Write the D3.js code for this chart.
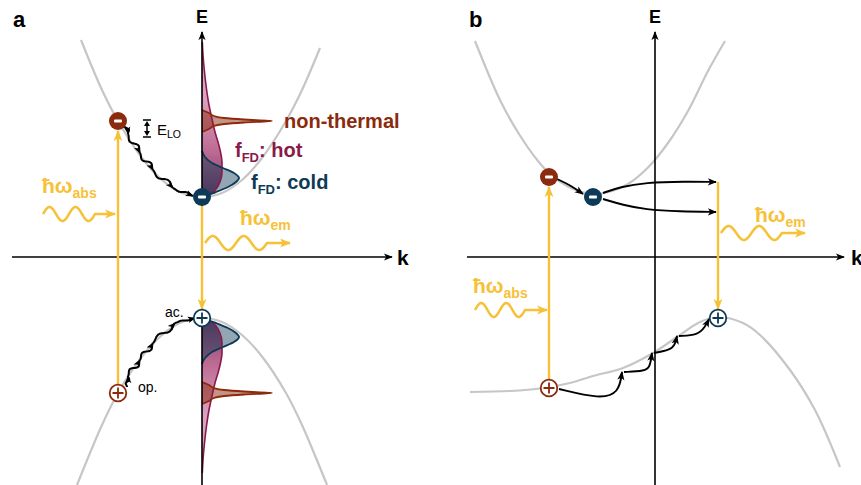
<!DOCTYPE html>
<html><head><meta charset="utf-8">
<script src="https://cdn.jsdelivr.net/npm/d3@7"></script>
<style>body{margin:0;background:#fff}svg{display:block;font-family:"Liberation Sans",Arial,sans-serif}</style>
</head><body><svg id="c" width="861" height="485"></svg>
<script>
// ---------------- DATA (k, E in arbitrary units) ----------------
// panel a: conduction / valence bands
const cbA_k = [-1.21,-1.0,-0.84,-0.6,-0.4,-0.2,0,0.2,0.4,0.6,0.84,1.0,1.18];
const cbA_E = [2.17,1.67,1.36,0.99,0.77,0.64,0.60,0.64,0.77,0.99,1.36,1.67,2.09];
const vbA_k = [-1.25,-1.0,-0.84,-0.6,-0.4,-0.2,0,0.2,0.4,0.6,0.84,1.0,1.25];
const vbA_E = [-2.28,-1.68,-1.36,-0.995,-0.78,-0.65,-0.61,-0.65,-0.78,-0.995,-1.36,-1.68,-2.28];
// panel b bands
const cbB_k = [-1.80,-1.55,-1.36,-1.17,-1.04,-0.88,-0.73,-0.60,-0.43,-0.27,-0.07,0.13,0.33,0.53,0.70];
const cbB_E = [2.16,1.57,1.23,0.96,0.82,0.71,0.65,0.63,0.66,0.73,0.895,1.14,1.46,1.86,2.16];
const vbB_k = [-1.85,-1.45,-1.12,-0.85,-0.62,-0.32,-0.02,0.22,0.45,0.63,0.88,1.05,1.35,1.6,1.85];
const vbB_E = [-1.35,-1.34,-1.31,-1.26,-1.19,-1.11,-0.96,-0.80,-0.65,-0.60,-0.66,-0.78,-1.13,-1.53,-2.10];

// carriers: [k, E]
const carriersA = [
  {k:-0.84,E:1.36,type:"e",col:"red"},{k:0,E:0.60,type:"e",col:"navy"},
  {k:-0.84,E:-1.36,type:"h",col:"red"},{k:0,E:-0.61,type:"h",col:"navy"}];
const carriersB = [
  {k:-1.06,E:0.80,type:"e",col:"red"},{k:-0.62,E:0.60,type:"e",col:"navy"},
  {k:-1.06,E:-1.31,type:"h",col:"red"},{k:0.63,E:-0.61,type:"h",col:"navy"}];

// distributions: offset from band edge, width
const hotOff  = [0,0.03,0.08,0.15,0.25,0.35,0.45,0.55,0.65,0.78,0.92,1.08,1.25,1.42,1.55];
const hotW    = [0,0.08,0.14,0.18,0.20,0.20,0.185,0.16,0.13,0.10,0.07,0.045,0.025,0.01,0.003];
const coldOff = [0,0.05,0.10,0.15,0.19,0.24,0.29,0.34,0.40,0.46];
const coldW   = [0,0.14,0.26,0.34,0.37,0.32,0.21,0.10,0.03,0];
const ntOff   = [-0.11,-0.08,-0.05,-0.03,-0.015,0,0.015,0.03,0.05,0.08,0.11];
const ntW     = [0,0.07,0.12,0.22,0.42,0.70,0.42,0.22,0.12,0.07,0];
const ntCenter = 0.76; // offset of non-thermal peak from band edge

// cascades panel a
const casEk = [-0.77,-0.74,-0.62,-0.49,-0.29,-0.09];
const casEE = [1.35,1.23,1.04,0.87,0.69,0.61];
const casHk = [-0.75,-0.74,-0.62,-0.49,-0.27,-0.07];
const casHE = [-1.30,-1.19,-1.03,-0.86,-0.66,-0.61];

// panel b arrow paths
const bRelax = [[-0.98,0.78],[-0.85,0.72],[-0.72,0.63]];
const bUpper = [[-0.52,0.64],[-0.35,0.70],[-0.10,0.745],[0.30,0.755],[0.61,0.75]];
const bLower = [[-0.52,0.58],[-0.32,0.52],[-0.10,0.475],[0.25,0.455],[0.61,0.45]];
const bSteps = [
  [[-0.96,-1.32],[-0.55,-1.42],[-0.36,-1.36],[-0.33,-1.15]],
  [[-0.31,-1.15],[-0.10,-1.14],[-0.05,-1.10],[-0.03,-0.96]],
  [[-0.01,-0.96],[0.15,-0.93],[0.20,-0.88],[0.22,-0.79]],
  [[0.24,-0.79],[0.43,-0.78],[0.50,-0.70],[0.54,-0.62]]];

// photons: start k, wave-end k, tip k, E
const photonsA = [{k0:-1.59,kw:-1.07,kt:-0.87,E:0.43,per:2,label:"abs",lk:-1.60,lE:0.64},
                  {k0:0.03,kw:0.65,kt:0.88,E:0.14,per:2,label:"em",lk:0.38,lE:0.32}];
const photonsB = [{k0:-1.80,kw:-1.30,kt:-1.08,E:-0.53,per:2,label:"abs",lk:-1.82,lE:-0.36},
                  {k0:0.66,kw:1.27,kt:1.50,E:0.24,per:2,label:"em",lk:1.00,lE:0.35}];
// optical transitions (yellow verticals): k, E from, E to
const transA = [{k:-0.84,E0:-1.28,E1:1.26},{k:0,E0:0.51,E1:-0.52}];
const transB = [{k:-1.06,E0:-1.23,E1:0.70},{k:0.63,E0:0.75,E1:-0.52}];

// ---------------- DRAWING ----------------
const RED="#8b2a0c", MAG="#8b1a4b", NAVY="#0d3b57", YEL="#f7c137", GRAY="#c6c6c6";
const svg=d3.select("#c");
const yS=d3.scaleLinear().domain([-2.28,2.57]).range([485,0]);
const xA=d3.scaleLinear().domain([-2,2]).range([2,402]);
const xB=d3.scaleLinear().domain([-2,2]).range([455,855]);

const defs=svg.append("defs");
function marker(id,col,size){
  defs.append("marker").attr("id",id).attr("viewBox","0 0 10 10").attr("refX",9).attr("refY",5)
   .attr("markerWidth",size).attr("markerHeight",size).attr("markerUnits","userSpaceOnUse").attr("orient","auto")
   .append("path").attr("d","M0,1 L10,5 L0,9 L2.5,5 Z").attr("fill",col);
}
marker("mk","#000",9); marker("mks","#000",8); marker("my",YEL,11);

function grad(id,y1,y2,stops){
  const g=defs.append("linearGradient").attr("id",id).attr("gradientUnits","userSpaceOnUse")
   .attr("x1",0).attr("x2",0).attr("y1",y1).attr("y2",y2);
  stops.forEach(s=>g.append("stop").attr("offset",s[0]).attr("stop-color",s[1]).attr("stop-opacity",s[2]));
}

const lineC=d3.line().curve(d3.curveCatmullRom);
const lineB=d3.line().curve(d3.curveBasis);
const lineL=d3.line();

function drawBand(xs,ks,Es){
  svg.append("path").attr("d",lineC(ks.map((k,i)=>[xs(k),yS(Es[i])])))
   .attr("fill","none").attr("stroke",GRAY).attr("stroke-width",2.2);
}
drawBand(xA,cbA_k,cbA_E); drawBand(xA,vbA_k,vbA_E);
drawBand(xB,cbB_k,cbB_E); drawBand(xB,vbB_k,vbB_E);

// distributions (panel a)
function dist(edge,dir,offs,ws,center,fill,stroke,sw){
  const pts=offs.map((o,i)=>({y:yS(edge+dir*(center+o)),w:ws[i]}));
  const area=d3.area().curve(d3.curveMonotoneY).y(d=>d.y).x0(xA(0)).x1(d=>xA(d.w));
  const ln=d3.line().curve(d3.curveMonotoneY).y(d=>d.y).x(d=>xA(d.w));
  svg.append("path").attr("d",area(pts)).attr("fill",fill);
  return ()=>svg.append("path").attr("d",ln(pts)).attr("fill","none").attr("stroke",stroke).attr("stroke-width",sw);
}
grad("hotU",yS(0.60),yS(0.60+1.0),[[0,"#6e2256",0.92],[0.45,"#b0507e",0.85],[1,"#d58bb0",0.8]]);
grad("hotL",yS(-0.61),yS(-0.61-1.0),[[0,"#6e2256",0.92],[0.45,"#b0507e",0.85],[1,"#d58bb0",0.8]]);
const strokes=[];
strokes.push(dist(0.60,1,hotOff,hotW,0,"url(#hotU)",MAG,1.6));
strokes.push(dist(-0.61,-1,hotOff,hotW,0,"url(#hotL)",MAG,1.6));
strokes.push(dist(0.60,1,coldOff,coldW,0,"rgba(13,59,87,0.45)",NAVY,1.9));
strokes.push(dist(-0.61,-1,coldOff,coldW,0,"rgba(13,59,87,0.45)",NAVY,1.9));
strokes.push(dist(0.60,1,ntOff,ntW,ntCenter,"rgba(139,42,12,0.5)",RED,1.8));
strokes.push(dist(-0.61,-1,ntOff,ntW,ntCenter-0.01,"rgba(139,42,12,0.5)",RED,1.8));
strokes.forEach(f=>f());

// axes
function axes(xs,kr){
  svg.append("line").attr("x1",xs(kr[0])).attr("x2",xs(kr[1])).attr("y1",yS(0)).attr("y2",yS(0))
   .attr("stroke","#000").attr("stroke-width",1.6).attr("marker-end","url(#mk)");
  svg.append("line").attr("x1",xs(0)).attr("x2",xs(0)).attr("y1",yS(-2.35)).attr("y2",yS(2.25))
   .attr("stroke","#000").attr("stroke-width",1.6).attr("marker-end","url(#mk)");
}
axes(xA,[-1.9,1.9]); axes(xB,[-1.88,1.89]);

// yellow transitions
function trans(xs,arr){
  arr.forEach(t=>svg.append("line").attr("x1",xs(t.k)).attr("x2",xs(t.k)).attr("y1",yS(t.E0)).attr("y2",yS(t.E1))
   .attr("stroke",YEL).attr("stroke-width",2.4).attr("marker-end","url(#my)"));
}
trans(xA,transA); trans(xB,transB);

// photons
function photons(xs,arr){
  arr.forEach(p=>{
    const x0=xs(p.k0),xw=xs(p.kw),xt=xs(p.kt),y=yS(p.E),amp=7;
    const pts=d3.range(0,61).map(i=>{const t=i/60;return [x0+(xw-x0)*t,y-amp*Math.sin(2*Math.PI*p.per*t)];});
    pts.push([xt,y]);
    svg.append("path").attr("d",lineL(pts)).attr("fill","none").attr("stroke",YEL).attr("stroke-width",2.5)
     .attr("stroke-linejoin","round").attr("marker-end","url(#my)");
    const tx=svg.append("text").attr("x",xs(p.lk)).attr("y",yS(p.lE)).attr("fill",YEL)
     .attr("font-weight","bold").attr("font-size",21);
    tx.append("tspan").text("ħω");
    tx.append("tspan").attr("font-size",14).attr("dy",5).text(p.label);
  });
}
photons(xA,photonsA); photons(xB,photonsB);

// wavy cascades
function wavy(p0,p1,n,amp){
  const dx=p1[0]-p0[0],dy=p1[1]-p0[1],L=Math.hypot(dx,dy),nx=-dy/L,ny=dx/L;
  return d3.range(0,31).map(i=>{const t=i/30,s=amp*Math.sin(2*Math.PI*n*t)*Math.sin(Math.PI*t);
    return [p0[0]+dx*t+nx*s,p0[1]+dy*t+ny*s];});
}
function cascade(ks,Es,amps){
  for(let i=0;i<ks.length-1;i++){
    const p0=[xA(ks[i]),yS(Es[i])],p1=[xA(ks[i+1]),yS(Es[i+1])];
    svg.append("path").attr("d",lineB(wavy(p0,p1,1,amps[i]))).attr("fill","none")
     .attr("stroke","#000").attr("stroke-width",2).attr("marker-end","url(#mks)");
  }
}
cascade(casEk,casEE,[2.5,3.5,3.5,3.5,1.5]);
cascade(casHk,casHE,[-2,-3.5,-3.5,-3.5,-1]);

// panel b black arrows
[bRelax,bUpper,bLower,...bSteps].forEach(p=>{
  svg.append("path").attr("d",lineB(p.map(d=>[xB(d[0]),yS(d[1])]))).attr("fill","none")
   .attr("stroke","#000").attr("stroke-width",1.9).attr("marker-end","url(#mk)");
});

// E_LO marker
{
  const x=xA(-0.55), yt=yS(1.37), yb=yS(1.20);
  svg.append("path").attr("d",`M${x-4},${yt}H${x+4}M${x-4},${yb}H${x+4}M${x},${yt+4}V${yb-4}`)
   .attr("stroke","#000").attr("stroke-width",1.5).attr("fill","none");
  svg.append("path").attr("d",`M${x},${yt+1}L${x-3},${yt+6}H${x+3}ZM${x},${yb-1}L${x-3},${yb-6}H${x+3}Z`).attr("fill","#000");
}
const elo=svg.append("text").attr("x",xA(-0.45)).attr("y",yS(1.225)).attr("font-size",15).attr("fill","#000");
elo.append("tspan").text("E"); elo.append("tspan").attr("font-size",10.5).attr("dy",3).text("LO");

// carriers
function carriers(xs,arr){
  arr.forEach(c=>{
    const col=c.col==="red"?RED:NAVY, x=xs(c.k), y=yS(c.E);
    if(c.type==="e"){
      svg.append("circle").attr("cx",x).attr("cy",y).attr("r",9).attr("fill",col);
      svg.append("rect").attr("x",x-4).attr("y",y-1.4).attr("width",8).attr("height",2.8).attr("rx",1).attr("fill","#fff");
    } else {
      svg.append("circle").attr("cx",x).attr("cy",y).attr("r",8.3).attr("fill","#fff").attr("stroke",col).attr("stroke-width",1.8);
      svg.append("path").attr("d",`M${x-5.5},${y}H${x+5.5}M${x},${y-5.5}V${y+5.5}`).attr("stroke",col).attr("stroke-width",1.8);
    }
  });
}
carriers(xA,carriersA); carriers(xB,carriersB);

// text labels
function txt(x,y,s,size,col,weight,anchor){
  return svg.append("text").attr("x",x).attr("y",y).attr("font-size",size).attr("fill",col)
   .attr("font-weight",weight||"normal").attr("text-anchor",anchor||"start").text(s);
}
txt(13,27,"a",22,"#000","bold");
txt(469,27,"b",22,"#000","bold");
txt(xA(0),23,"E",18,"#000","bold","middle");
txt(xB(0),23,"E",18,"#000","bold","middle");
txt(397,265,"k",21,"#000","bold");
txt(851,265,"k",21,"#000","bold");
txt(284,128,"non-thermal",20,RED,"bold");
function fd(x,y,s,col){
  const t=svg.append("text").attr("x",x).attr("y",y).attr("font-size",20).attr("font-weight","bold").attr("fill",col);
  t.append("tspan").text("f"); t.append("tspan").attr("font-size",13).attr("dy",5).text("FD");
  t.append("tspan").attr("dy",-5).text(s);
}
fd(235,157,": hot",MAG); fd(251,189,": cold",NAVY);
txt(xA(-0.64),yS(-1.35),"op.",14,"#000");
txt(xA(-0.37),yS(-0.60),"ac.",14,"#000");
</script></body></html>
